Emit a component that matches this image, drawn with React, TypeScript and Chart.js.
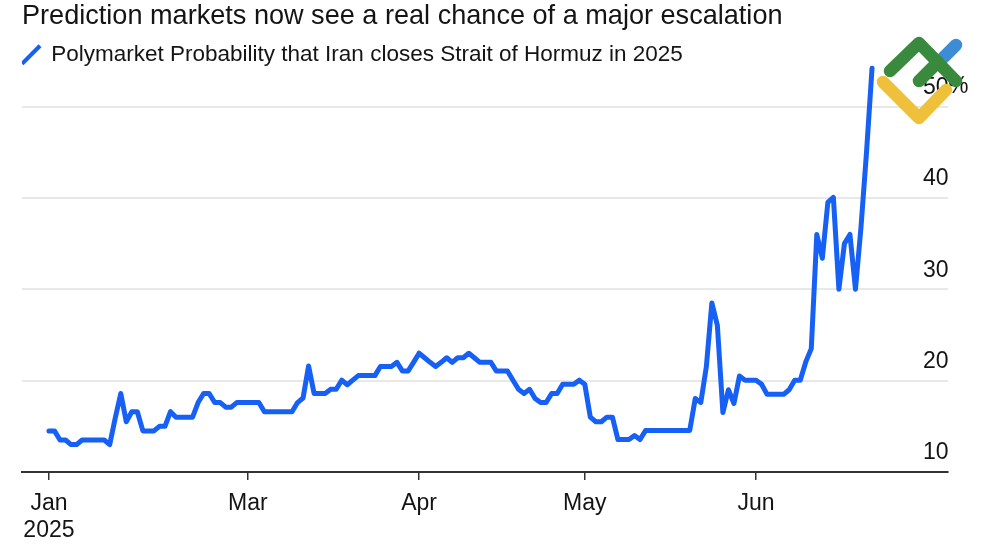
import React, { useEffect, useRef } from "react";
import { Chart, registerables } from "chart.js";

Chart.register(...registerables);

const titleText = "Prediction markets now see a real chance of a major escalation";
const seriesName = "Polymarket Probability that Iran closes Strait of Hormuz in 2025";
const xTickDays = [0, 36, 67, 97, 128];
const xTickLabels: (string | string[])[] = [["Jan", "2025"], "Mar", "Apr", "May", "Jun"];
const yTickValues = [10, 20, 30, 40, 50];
const values = [
  14.5, 14.5, 13.5, 13.5, 13, 13, 13.5, 13.5, 13.5, 13.5, 13.5, 13, 15.9, 18.6, 15.5, 16.6, 16.6, 14.5, 14.5, 14.5,
  15, 15, 16.6, 16, 16, 16, 16, 17.6, 18.6, 18.6, 17.6, 17.6, 17.1, 17.1, 17.6, 17.6, 17.6, 17.6, 17.6, 16.6,
  16.6, 16.6, 16.6, 16.6, 16.6, 17.6, 18.1, 21.6, 18.6, 18.6, 18.6, 19.05, 19.05, 20.05, 19.55, 20.05, 20.55, 20.55, 20.55, 20.55,
  21.55, 21.55, 21.55, 22, 21.05, 21.05, 22, 23, 22.5, 22, 21.55, 22, 22.5, 22, 22.5, 22.5, 23, 22.5, 22, 22,
  22, 21.05, 21.05, 21.05, 20.05, 19.05, 18.6, 19.05, 18.05, 17.6, 17.6, 18.6, 18.6, 19.6, 19.6, 19.6, 20.05, 19.6, 16, 15.5,
  15.5, 16, 16, 13.55, 13.55, 13.55, 14, 13.55, 14.55, 14.55, 14.55, 14.55, 14.55, 14.55, 14.55, 14.55, 14.55, 18.05, 17.6, 21.5,
  28.5, 26.05, 16.5, 19, 17.5, 20.5, 20.05, 20.05, 20.05, 19.6, 18.5, 18.5, 18.5, 18.5, 19, 20.05, 20.05, 22.05, 23.5, 36,
  33.4, 39.5, 40.05, 30, 35, 36, 30, 36.8, 45, 54.2,
];

const FONT = '"Liberation Sans", Arial, sans-serif';
const BLUE = "#1660f5";
const INK = "#141414";

const decorations = {
  id: "decorations",
  afterDraw(chart: any) {
    const { ctx, scales } = chart;
    ctx.save();
    ctx.font = `23px ${FONT}`;
    ctx.fillStyle = INK;
    ctx.textAlign = "left";
    ctx.textBaseline = "middle";
    ctx.fillText("%", 948, scales.y.getPixelForValue(50) - 20);
    ctx.lineCap = "round";
    ctx.lineJoin = "round";
    ctx.lineWidth = 12.5;
    const stroke = (color: string, pts: number[][]) => {
      ctx.strokeStyle = color;
      ctx.beginPath();
      pts.forEach((p, i) => (i ? ctx.lineTo(p[0], p[1]) : ctx.moveTo(p[0], p[1])));
      ctx.stroke();
    };
    stroke("#3b8ed6", [[956, 45], [938, 63]]);
    stroke("#efc03a", [[883, 82], [919, 118], [946, 90]]);
    stroke("#3a8a3e", [[890, 71], [919, 43], [956, 81]]);
    stroke("#3a8a3e", [[919, 81], [938, 62]]);
    ctx.restore();
  },
};

export default function App() {
  const ref = useRef<HTMLCanvasElement>(null);
  useEffect(() => {
    document.body.style.margin = "0";
    const chart = new Chart(ref.current!, {
      type: "line",
      data: {
        datasets: [
          {
            label: seriesName,
            data: values.map((v, i) => ({ x: i, y: v })),
            borderColor: BLUE,
            backgroundColor: BLUE,
            borderWidth: 5,
            borderCapStyle: "round",
            borderJoinStyle: "round",
            tension: 0,
            pointRadius: 0,
            pointStyle: "line",
            pointRotation: -45,
            pointBorderWidth: 4,
            pointBorderColor: BLUE,
            clip: false,
          } as any,
        ],
      },
      options: {
        responsive: false,
        animation: false,
        layout: { padding: { left: 22, right: 50.5, top: 0, bottom: 0 } },
        plugins: {
          tooltip: { enabled: false },
          title: {
            display: true,
            text: titleText,
            align: "start",
            color: INK,
            font: { family: FONT, size: 27.1, weight: "normal" },
            padding: { top: 0, bottom: 11 },
          },
          legend: {
            display: true,
            align: "start",
            labels: {
              usePointStyle: true,
              pointStyleWidth: 18,
              boxHeight: 18,
              padding: 0,
              color: INK,
              font: { family: FONT, size: 22.5 },
            },
          },
        },
        scales: {
          x: {
            type: "linear",
            min: -4.88,
            max: 162.66,
            afterBuildTicks: (scale: any) => {
              scale.ticks = xTickDays.map((value) => ({ value }));
            },
            afterFit: (scale: any) => {
              scale.height = 73;
            },
            border: { display: true, color: "#333333", width: 2 },
            grid: { drawOnChartArea: false, drawTicks: true, tickLength: 8, color: "#333333", lineWidth: 1.5 },
            ticks: {
              autoSkip: false,
              maxRotation: 0,
              padding: 10,
              color: INK,
              font: { family: FONT, size: 23, lineHeight: 1.17 },
              callback: (_v: any, i: number) => xTickLabels[i],
            },
          },
          y: {
            position: "right",
            min: 10,
            max: 53.34,
            afterBuildTicks: (scale: any) => {
              scale.ticks = yTickValues.map((value) => ({ value }));
            },
            border: { display: false },
            grid: { color: "#e8e8e8", lineWidth: 2, drawTicks: false },
            ticks: {
              mirror: true,
              padding: 1,
              labelOffset: -19,
              includeBounds: false,
              color: INK,
              font: { family: FONT, size: 23 },
            },
          },
        },
      } as any,
      plugins: [decorations],
    });
    return () => chart.destroy();
  }, []);
  return <canvas ref={ref} width={1000} height={545} style={{ display: "block" }} />;
}
